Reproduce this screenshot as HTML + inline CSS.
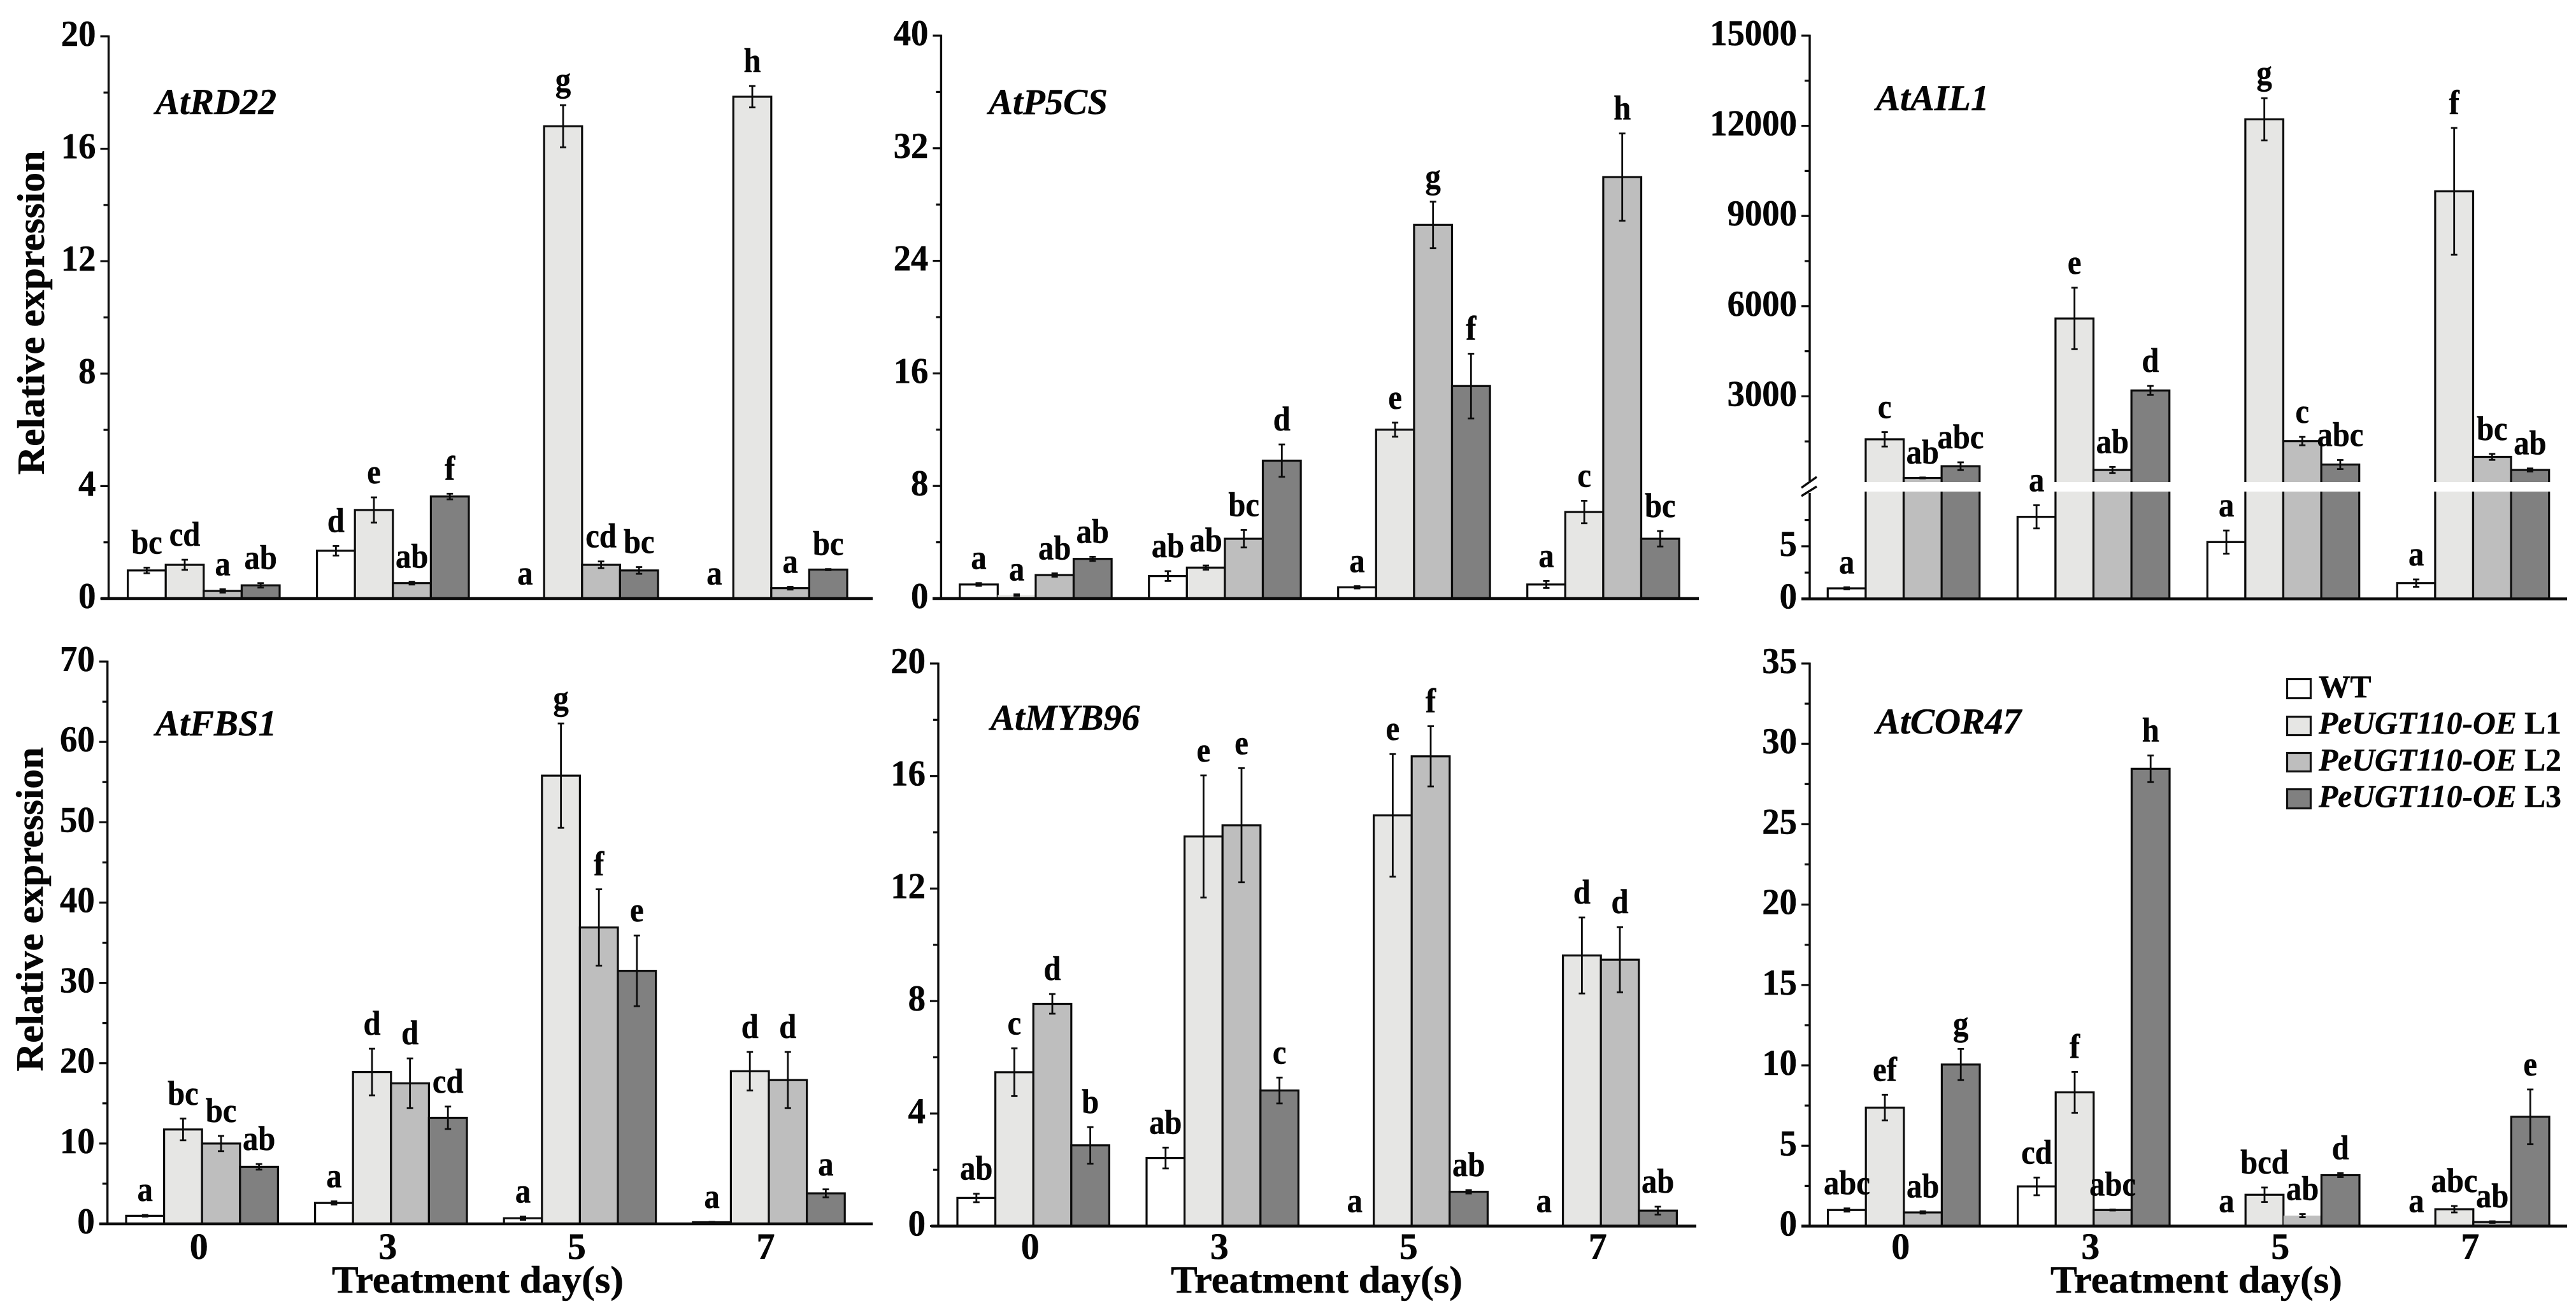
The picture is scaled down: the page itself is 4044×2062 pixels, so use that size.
<!DOCTYPE html>
<html lang="en">
<head>
<meta charset="utf-8">
<title>Relative expression of stress-response genes</title>
<style>
html,body{margin:0;padding:0;background:#fff;width:4044px;height:2062px;overflow:hidden}
svg{display:block}
text{font-family:"Liberation Serif",serif;font-weight:bold;fill:#050505;stroke:#050505;stroke-width:0.5px}
.gene{font-size:57px;font-style:italic}
.title{font-size:60px}
.legend{font-size:49.5px}
.legend tspan.it{font-style:italic}
</style>
</head>
<body>
<svg id="figure" xmlns="http://www.w3.org/2000/svg" width="4044" height="2062" viewBox="0 0 4044 2062">
<rect x="0" y="0" width="4044" height="2062" fill="#fff"/>
<g id="plots"></g>
<text class="gene" x="244" y="179">AtRD22</text>
<text class="gene" x="1552" y="179">AtP5CS</text>
<text class="gene" x="2945" y="173">AtAIL1</text>
<text class="gene" x="244" y="1155">AtFBS1</text>
<text class="gene" x="1555" y="1146">AtMYB96</text>
<text class="gene" x="2945" y="1152">AtCOR47</text>
<text class="title" transform="translate(69,491) rotate(-90)" text-anchor="middle" textLength="509" lengthAdjust="spacingAndGlyphs">Relative expression</text>
<text class="title" transform="translate(67,1428) rotate(-90)" text-anchor="middle" textLength="509" lengthAdjust="spacingAndGlyphs">Relative expression</text>
<text class="title" x="750" y="2030" text-anchor="middle" textLength="458" lengthAdjust="spacingAndGlyphs">Treatment day(s)</text>
<text class="title" x="2067" y="2030" text-anchor="middle" textLength="458" lengthAdjust="spacingAndGlyphs">Treatment day(s)</text>
<text class="title" x="3448" y="2030" text-anchor="middle" textLength="458" lengthAdjust="spacingAndGlyphs">Treatment day(s)</text>
<g>
<rect x="3590.5" y="1066.5" width="37" height="30" fill="#ffffff" stroke="#111" stroke-width="3.2"/>
<text class="legend" x="3640" y="1095">WT</text>
<rect x="3590.5" y="1125.5" width="37" height="29" fill="#e6e6e4" stroke="#111" stroke-width="3.2"/>
<text class="legend" x="3640" y="1152"><tspan class="it">PeUGT110-OE</tspan> L1</text>
<rect x="3590.5" y="1182.5" width="37" height="29" fill="#bebebe" stroke="#111" stroke-width="3.2"/>
<text class="legend" x="3640" y="1210"><tspan class="it">PeUGT110-OE</tspan> L2</text>
<rect x="3590.5" y="1239.5" width="37" height="30" fill="#808080" stroke="#111" stroke-width="3.2"/>
<text class="legend" x="3640" y="1267"><tspan class="it">PeUGT110-OE</tspan> L3</text>
</g>
</svg>
<script>
// ---- shared categories ----
const days = ['0', '3', '5', '7'];
const lines = ['wt', 'l1', 'l2', 'l3'];

// ---- AtRD22 ----
const rd22Values = [[1.0, 1.2, 0.27, 0.47], [1.7, 3.15, 0.55, 3.63], [0, 16.8, 1.2, 1.0], [0, 17.85, 0.37, 1.03]];
const rd22Errors = [[0.1, 0.18, 0.06, 0.08], [0.17, 0.45, 0.05, 0.1], [0, 0.75, 0.12, 0.12], [0, 0.38, 0.05, 0.02]];
const rd22Letters = [['bc', 'cd', 'a', 'ab'], ['d', 'e', 'ab', 'f'], ['a', 'g', 'cd', 'bc'], ['a', 'h', 'a', 'bc']];
const rd22Ticks = [0, 4, 8, 12, 16, 20];
const rd22Minor = [2, 6, 10, 14, 18];

// ---- AtP5CS ----
const p5csValues = [[1.0, 0.25, 1.67, 2.82], [1.6, 2.2, 4.25, 9.8], [0.8, 12.0, 26.55, 15.1], [1.0, 6.15, 29.95, 4.25]];
const p5csErrors = [[0.1, 0.05, 0.12, 0.15], [0.35, 0.15, 0.62, 1.15], [0.08, 0.5, 1.65, 2.3], [0.25, 0.8, 3.1, 0.55]];
const p5csLetters = [['a', 'a', 'ab', 'ab'], ['ab', 'ab', 'bc', 'd'], ['a', 'e', 'g', 'f'], ['a', 'c', 'h', 'bc']];
const p5csTicks = [0, 8, 16, 24, 32, 40];
const p5csMinor = [4, 12, 20, 28, 36];

// ---- AtAIL1 (broken axis) ----
const ail1Values = [[1.0, 1570, 285, 675], [7.8, 5590, 550, 3195], [5.4, 12216, 1510, 730], [1.5, 9820, 985, 550]];
const ail1Errors = [[0.1, 240, 15, 130], [1.1, 1023, 100, 150], [1.1, 703, 140, 150], [0.35, 2110, 100, 50]];
const ail1Letters = [['a', 'c', 'ab', 'abc'], ['a', 'e', 'ab', 'd'], ['a', 'g', 'c', 'abc'], ['a', 'f', 'bc', 'ab']];
const ail1Ticks = [0, 5, 3000, 6000, 9000, 12000, 15000];
const ail1Minor = [2.5, 7.5, 1500, 4500, 7500, 10500, 13500];

// ---- AtFBS1 ----
const fbs1Values = [[1.0, 11.75, 10.0, 7.1], [2.6, 18.9, 17.5, 13.2], [0.7, 55.8, 36.9, 31.5], [0.2, 19.0, 17.9, 3.8]];
const fbs1Errors = [[0.1, 1.35, 0.95, 0.35], [0.2, 2.9, 3.1, 1.4], [0.2, 6.5, 4.75, 4.4], [0.05, 2.4, 3.5, 0.5]];
const fbs1Letters = [['a', 'bc', 'bc', 'ab'], ['a', 'd', 'd', 'cd'], ['a', 'g', 'f', 'e'], ['a', 'd', 'd', 'a']];
const fbs1Ticks = [0, 10, 20, 30, 40, 50, 60, 70];
const fbs1Minor = [5, 15, 25, 35, 45, 55, 65];

// ---- AtMYB96 ----
const myb96Values = [[1.0, 5.47, 7.9, 2.87], [2.42, 13.85, 14.25, 4.82], [0, 14.6, 16.7, 1.22], [0, 9.62, 9.47, 0.55]];
const myb96Errors = [[0.15, 0.85, 0.35, 0.65], [0.37, 2.17, 2.03, 0.46], [0, 2.18, 1.07, 0.06], [0, 1.35, 1.16, 0.14]];
const myb96Letters = [['ab', 'c', 'd', 'b'], ['ab', 'e', 'e', 'c'], ['a', 'e', 'f', 'ab'], ['a', 'd', 'd', 'ab']];
const myb96Ticks = [0, 4, 8, 12, 16, 20];
const myb96Minor = [2, 6, 10, 14, 18];

// ---- AtCOR47 ----
const cor47Values = [[1.0, 7.37, 0.85, 10.05], [2.47, 8.32, 1.0, 28.45], [0, 1.95, 0.65, 3.17], [0, 1.05, 0.25, 6.8]];
const cor47Errors = [[0.1, 0.8, 0.07, 0.97], [0.55, 1.27, 0.03, 0.83], [0, 0.45, 0.1, 0.12], [0, 0.2, 0.05, 1.7]];
const cor47Letters = [['abc', 'ef', 'ab', 'g'], ['cd', 'f', 'abc', 'h'], ['a', 'bcd', 'ab', 'd'], ['a', 'abc', 'ab', 'e']];
const cor47Ticks = [0, 5, 10, 15, 20, 25, 30, 35];
const cor47Minor = [2.5, 7.5, 12.5, 17.5, 22.5, 27.5, 32.5];

const fills = { wt: '#ffffff', l1: '#e6e6e4', l2: '#bebebe', l3: '#808080' };
const INK = '#0c0c0c';
const BAR_W = 59.6;
const LABEL_GAP = 22;
const root = document.getElementById('plots');
const NS = 'http://www.w3.org/2000/svg';

function make(tag, attrs, parent) {
  const el = document.createElementNS(NS, tag);
  for (const k in attrs) el.setAttribute(k, attrs[k]);
  parent.appendChild(el);
  return el;
}

function linearScale(maxValue, yBottom, yTop) {
  return v => yBottom - (v / maxValue) * (yBottom - yTop);
}

// Broken axis: low range below the gap, high range above it.
function brokenScale(lowPerUnit, yBottom, highMax, yTop, yHighZero) {
  return v => v <= 100 ? yBottom - v * lowPerUnit : yHighZero - (v / highMax) * (yHighZero - yTop);
}

function drawPanel(p) {
  const g = make('g', {}, root);
  
  
  const y = p.scale;
  const tops = [];

  p.values.forEach((group, gi) => {
    group.forEach((value, si) => {
      const left = p.barX + p.pitch * gi + BAR_W * si;
      const cx = left + BAR_W / 2;
      const err = p.errors[gi][si];
      if (value > 0) {
        const outlined = !(p.plainBar && p.plainBar[0] === gi && p.plainBar[1] === si);
        const bar = make('rect', {
          x: left, y: y(value), width: BAR_W, height: p.yBottom - y(value),
          fill: fills[lines[si]], stroke: outlined ? INK : 'none', 'stroke-width': 3.2
        }, g);
        
        
      }
      tops.push({ gi, si, cx, value, err });
    });
  });

  if (p.broken) {
    const gap = make('rect', { x: p.axisX - 20, y: p.gapTop, width: p.axisEnd - p.axisX + 10, height: p.gapBottom - p.gapTop, fill: '#fff' }, g);
    
    
  }

  tops.forEach(t => {
    if (t.value <= 0) return;
    const eb = make('g', { stroke: INK, 'stroke-width': 2.8, fill: 'none' }, g);
    
    
    const yHi = y(t.value + t.err), yLo = y(t.value - t.err);
    make('line', { x1: t.cx, x2: t.cx, y1: yHi, y2: yLo }, eb);
    make('line', { x1: t.cx - 5, x2: t.cx + 5, y1: yHi, y2: yHi }, eb);
    make('line', { x1: t.cx - 5, x2: t.cx + 5, y1: yLo, y2: yLo }, eb);
  });

  // axes
  const axes = make('g', { stroke: INK, fill: 'none' }, g);
  
  
  if (p.broken) {
    make('line', { x1: p.axisX, x2: p.axisX, y1: p.yTop - 1.5, y2: p.gapTop - 2, 'stroke-width': 3.4 }, axes);
    make('line', { x1: p.axisX, x2: p.axisX, y1: p.gapBottom + 2, y2: p.yBottom, 'stroke-width': 3.4 }, axes);
    make('line', { x1: p.axisX - 13, x2: p.axisX + 11, y1: p.gapTop + 9, y2: p.gapTop - 8, 'stroke-width': 3.4 }, axes);
    make('line', { x1: p.axisX - 13, x2: p.axisX + 11, y1: p.gapBottom + 7, y2: p.gapBottom - 8, 'stroke-width': 3.4 }, axes);
  } else {
    make('line', { x1: p.axisX, x2: p.axisX, y1: p.yTop - 1.5, y2: p.yBottom, 'stroke-width': 3.4 }, axes);
  }
  make('line', { x1: p.axisStart, x2: p.axisEnd, y1: p.yBottom, y2: p.yBottom, 'stroke-width': 4.5 }, axes);

  p.minor.forEach(v => {
    const t = make('line', { x1: p.axisX - 8, x2: p.axisX, y1: y(v), y2: y(v), 'stroke-width': 3.2 }, axes);
    
    
  });
  p.ticks.forEach(v => {
    const t = make('line', { x1: p.axisX - 13, x2: p.axisX, y1: y(v), y2: y(v), 'stroke-width': 3.2 }, axes);
    
    
    const lab = make('text', {
      transform: 'translate(' + (p.axisX - 20) + ',' + (y(v) + 15) + ') scale(0.96,1)',
      'text-anchor': 'end', 'font-size': 57
    }, g);
    lab.textContent = String(v);
    
    
  });

  if (p.showDays) {
    days.forEach((d, gi) => {
      const lab = make('text', { x: p.barX + p.pitch * gi + 2 * BAR_W - 5, y: 1977, 'text-anchor': 'middle', 'font-size': 58 }, g);
      lab.textContent = d;
      
      
    });
  }

  // significance letters
  tops.forEach(t => {
    const base = t.value > 0 ? y(t.value + t.err) : p.yBottom;
    const lab = make('text', {
      transform: 'translate(' + t.cx + ',' + (base - LABEL_GAP) + ') scale(0.9,1)',
      'text-anchor': 'middle', 'font-size': 54
    }, g);
    lab.textContent = p.letters[t.gi][t.si];
    
    
  });
}

const panels = [
  { name: 'atrd22', values: rd22Values, errors: rd22Errors, letters: rd22Letters, ticks: rd22Ticks, minor: rd22Minor,
    axisX: 170.5, axisStart: 158, axisEnd: 1370, barX: 200.6, pitch: 297, yBottom: 940, yTop: 57,
    scale: linearScale(20, 940, 57) },
  { name: 'atp5cs', values: p5csValues, errors: p5csErrors, letters: p5csLetters, ticks: p5csTicks, minor: p5csMinor,
    axisX: 1477.4, axisStart: 1464, axisEnd: 2667, barX: 1506.7, pitch: 297, yBottom: 940, yTop: 56, plainBar: [0, 1],
    scale: linearScale(40, 940, 56) },
  { name: 'atail1', values: ail1Values, errors: ail1Errors, letters: ail1Letters, ticks: ail1Ticks, minor: ail1Minor,
    axisX: 2841, axisStart: 2828, axisEnd: 4030, barX: 2869.3, pitch: 298, yBottom: 940.5, yTop: 56,
    broken: true, gapTop: 757, gapBottom: 772,
    scale: brokenScale(16.52, 940.5, 15000, 56, 764) },
  { name: 'atfbs1', values: fbs1Values, errors: fbs1Errors, letters: fbs1Letters, ticks: fbs1Ticks, minor: fbs1Minor,
    axisX: 168.7, axisStart: 156, axisEnd: 1370, barX: 198, pitch: 296.6, yBottom: 1922, yTop: 1039, showDays: true,
    scale: linearScale(70, 1922, 1039) },
  { name: 'atmyb96', values: myb96Values, errors: myb96Errors, letters: myb96Letters, ticks: myb96Ticks, minor: myb96Minor,
    axisX: 1473, axisStart: 1462, axisEnd: 2663, barX: 1503, pitch: 297, yBottom: 1925.5, yTop: 1042, showDays: true,
    scale: linearScale(20, 1925.5, 1042) },
  { name: 'atcor47', values: cor47Values, errors: cor47Errors, letters: cor47Letters, ticks: cor47Ticks, minor: cor47Minor,
    axisX: 2841, axisStart: 2828, axisEnd: 4030, barX: 2869.6, pitch: 298, yBottom: 1925.5, yTop: 1042, showDays: true, plainBar: [2, 2],
    scale: linearScale(35, 1925.5, 1042) }
];
panels.forEach(drawPanel);
</script>
</body>
</html>
